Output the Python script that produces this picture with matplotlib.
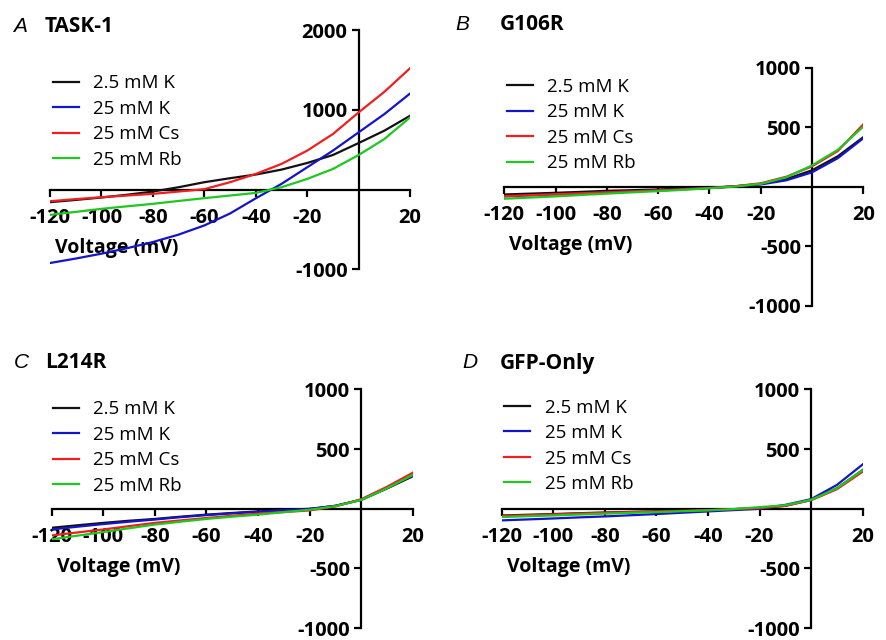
import numpy as np
import matplotlib.pyplot as plt

plt.rcParams['axes.unicode_minus'] = False

# 读图: 电压 (mV), 电流值
V = [-120, -110, -100, -90, -80, -70, -60, -50, -40, -30, -20, -10, 0, 10, 20]
LABELS = ['2.5 mM K', '25 mM K', '25 mM Cs', '25 mM Rb']
COLORS = ['#111111', '#1414c8', '#f01e1e', '#1ec81e']

A_k25 = [-158, -130, -100, -65, -25, 29, 92, 142, 188, 250, 333, 433, 583, 738, 925]
A_k  = [-921, -865, -804, -735, -658, -565, -450, -300, -110, 71, 279, 488, 717, 946, 1204]
A_cs = [-146, -120, -96, -75, -54, -25, 5, 92, 196, 321, 488, 696, 967, 1225, 1521]
A_rb = [-317, -280, -242, -210, -179, -143, -108, -75, -42, 29, 133, 258, 433, 633, 904]

B_k25 = [-64, -57, -50, -42, -33, -28, -22, -15, -8, 5, 25, 65, 139, 256, 417]
B_k  = [-80, -72, -64, -55, -46, -38, -30, -20, -10, 3, 20, 55, 122, 240, 408]
B_cs = [-78, -70, -62, -54, -46, -38, -30, -20, -10, 5, 30, 85, 172, 300, 525]
B_rb = [-100, -90, -80, -68, -57, -46, -36, -25, -12, 3, 25, 80, 180, 310, 506]

C_k25 = [-159, -138, -118, -100, -85, -66, -49, -35, -22, -10, 0, 25, 74, 170, 272]
C_k  = [-173, -150, -128, -108, -90, -70, -53, -38, -25, -12, -2, 25, 76, 175, 280]
C_cs = [-223, -198, -173, -145, -118, -97, -77, -58, -41, -27, -14, 20, 80, 184, 302]
C_rb = [-255, -225, -195, -163, -132, -108, -85, -66, -49, -28, -8, 22, 74, 172, 283]

D_k25 = [-56, -50, -44, -37, -31, -26, -21, -16, -11, -3, 6, 25, 75, 172, 325]
D_k  = [-97, -89, -81, -72, -64, -54, -44, -33, -22, -11, 0, 33, 81, 200, 372]
D_cs = [-60, -54, -47, -40, -33, -28, -22, -17, -11, -3, 6, 25, 72, 164, 311]
D_rb = [-69, -62, -56, -48, -41, -34, -28, -20, -13, -2, 14, 30, 75, 172, 325]

XTICKS = [-120, -100, -80, -60, -40, -20, 20]
PANELS = [
    # letter, title, series, ylim, yticks, axes rect, legend anchor
    ('A', 'TASK-1', [A_k25, A_k, A_cs, A_rb], (-1000, 2000), [-1000, 1000, 2000],
     [0.0564, 0.5792, 0.4059, 0.3739], (0.0075, 0.815)),
    ('B', 'G106R', [B_k25, B_k, B_cs, B_rb], (-1000, 1000), [-1000, -500, 500, 1000],
     [0.5686, 0.5219, 0.4047, 0.3723], (0.007, 0.958)),
    ('C', 'L214R', [C_k25, C_k, C_cs, C_rb], (-1000, 1000), [-1000, -500, 500, 1000],
     [0.0583, 0.0185, 0.4070, 0.3730], (0.004, 0.955)),
    ('D', 'GFP-Only', [D_k25, D_k, D_cs, D_rb], (-1000, 1000), [-1000, -500, 500, 1000],
     [0.5656, 0.0185, 0.4070, 0.3730], (0.007, 0.962)),
]
TITLE_POS = [(13, 26, 45), (455, 25, 500), (14, 363, 45), (462, 363, 500)]  # px: 字母x, y, 标题x

FONT = 'Open Sans'
W, H = 887, 640
fig = plt.figure(figsize=(W/100, H/100), dpi=100)

for (let, title, series, ylim, yt, rect, lanc), (lx, ty, tx) in zip(PANELS, TITLE_POS):
    ax = fig.add_axes(rect)
    for ys, lab, c in zip(series, LABELS, COLORS):
        ax.plot(V, ys, color=c, lw=1.6, label=lab, zorder=4)
    ax.set_xlim(-120, 20); ax.set_ylim(*ylim)
    for s in ('top', 'right'):
        ax.spines[s].set_visible(False)
    ax.spines['left'].set_position(('data', 0))
    ax.spines['bottom'].set_position(('data', 0))
    for s in ('left', 'bottom'):
        ax.spines[s].set_linewidth(1.6)
    ax.set_xticks(XTICKS); ax.set_yticks(yt)
    ax.tick_params(direction='out', length=5, width=1.6, labelsize=14.5)
    ax.tick_params(axis='x', pad=8)
    ax.tick_params(axis='y', pad=3)
    for t in ax.get_xticklabels() + ax.get_yticklabels():
        t.set_fontfamily(FONT); t.set_fontweight('bold')
    ax.patch.set_alpha(0)
    ax.annotate('Voltage (mV)', xy=(0.014, 0), xycoords=('axes fraction', 'data'),
                xytext=(0, -58), textcoords='offset pixels', ha='left', va='center',
                fontsize=14, fontweight='bold', family=FONT)
    leg = ax.legend(loc='upper left', bbox_to_anchor=lanc, frameon=False,
                    handlelength=1.4, handletextpad=0.75, labelspacing=0.4,
                    borderpad=0, borderaxespad=0, prop={'family': FONT, 'size': 13.5})
    for h in leg.get_lines():
        h.set_linewidth(1.6)
    fig.text(lx/W, 1 - ty/H, let, ha='left', va='center', fontsize=15,
             style='italic', family='Liberation Sans')
    fig.text(tx/W, 1 - ty/H, title, ha='left', va='center', fontsize=15,
             fontweight='bold', family=FONT)

fig.savefig('out.png', dpi=100)
